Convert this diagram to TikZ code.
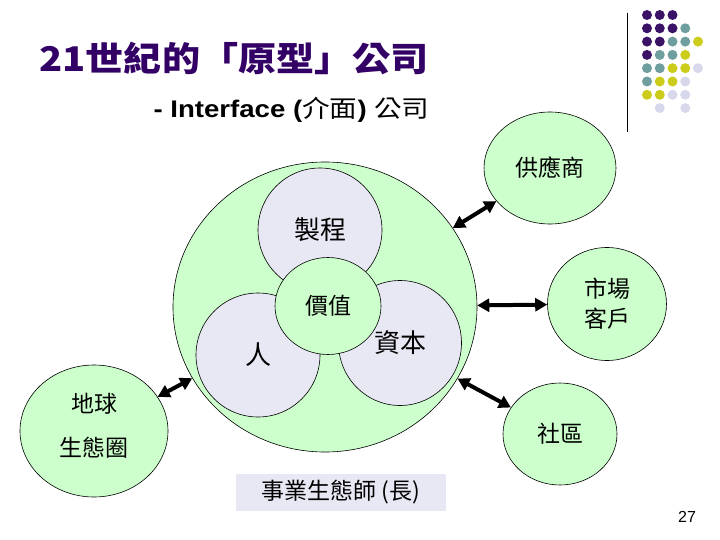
\documentclass[tikz,border=0pt]{standalone}
\usepackage{graphicx}
\usepackage{fontspec}
\setmainfont{Liberation Sans}
\newfontfamily\cjk{Noto Sans CJK TC}
\usetikzlibrary{shapes.geometric,arrows.meta}
\definecolor{paleGreen}{HTML}{CCFFCC}
\definecolor{paleLav}{HTML}{E8E8F4}
\definecolor{titlePurple}{HTML}{330066}
\definecolor{dotPurple}{HTML}{3A1266}
\definecolor{dotTeal}{HTML}{6E9E9E}
\definecolor{dotOlive}{HTML}{CCCC1A}
\definecolor{dotLav}{HTML}{D8D8EC}
\begin{document}
\begin{tikzpicture}[x=1pt,y=-1pt,>={Triangle[length=12pt,width=13pt]},
    blob/.style={ellipse,draw,line width=0.6pt,fill=paleGreen,inner sep=0pt,align=center,
                 font=\cjk\fontsize{23}{40}\selectfont},
    petal/.style={blob,fill=paleLav,font=\cjk\fontsize{26}{30}\selectfont},
    link/.style={<->,line width=4pt}]
    \useasboundingbox (0,0) rectangle (720,540);
    % tieu de
    \node[anchor=west,text=titlePurple,font=\cjk\bfseries\fontsize{34}{40}\selectfont] (title) at (36,58) {\scalebox{1.12}[1]{21世紀的「原型」公司}};
    \node[anchor=west,font=\bfseries\fontsize{24}{28}\selectfont] (subtitle) at (150,110) {\scalebox{1.15}[1]{- Interface ({\cjk\mdseries 介面}) {\cjk\mdseries 公司}}};
    % trang tri goc phai
    \draw[line width=1pt] (627,13) -- (627,132);
    \foreach \c/\r/\col in {0/0/dotPurple,1/0/dotPurple,2/0/dotPurple,
            0/1/dotPurple,1/1/dotPurple,2/1/dotPurple,3/1/dotTeal,
            0/2/dotPurple,1/2/dotPurple,2/2/dotTeal,3/2/dotTeal,4/2/dotOlive,
            0/3/dotPurple,1/3/dotTeal,2/3/dotTeal,3/3/dotOlive,
            0/4/dotTeal,1/4/dotTeal,2/4/dotOlive,3/4/dotOlive,4/4/dotLav,
            0/5/dotTeal,1/5/dotOlive,2/5/dotOlive,3/5/dotLav,
            0/6/dotOlive,1/6/dotOlive,2/6/dotLav,3/6/dotLav,
            1/7/dotLav,3/7/dotLav}
        \fill[\col] (647+12.75*\c,15+13.3*\r) circle (5pt);
    % vong lon va ba canh hoa
    \node[blob,minimum width=304pt,minimum height=290pt] (core) at (325,307) {};
    \node[petal,minimum width=124pt,minimum height=124pt] (process) at (320,230) {製程};
    \node[petal,minimum width=124pt,minimum height=124pt] (people) at (258,355) {人};
    \node[petal,minimum width=123pt,minimum height=125pt] (capital) at (400,343) {資本};
    \node[blob,minimum width=106pt,minimum height=97pt] (value) at (328,306) {價值};
    % cac ben ngoai
    \node[blob,minimum width=132pt,minimum height=112pt] (supplier) at (550,168) {供應商};
    \node[blob,minimum width=119pt,minimum height=113pt] (market) at (607,304) {市場\\[-10pt]客戶};
    \node[blob,minimum width=114pt,minimum height=102pt] (community) at (560,434) {社區};
    \node[blob,minimum width=148pt,minimum height=132pt] (earth) at (94,431) {地球\\[4pt]生態圈\\[-28pt]};
    % mui ten hai chieu
    \draw[link] (core) -- (supplier);
    \draw[link] (core) -- (market);
    \draw[link] (core) -- (community);
    \draw[link] (core) -- (earth);
    % nhan duoi
    \node[fill=paleLav,minimum width=210pt,minimum height=37pt,inner sep=0pt,
          font=\cjk\fontsize{23}{28}\selectfont] (eco) at (341,492) {事業生態師 (長)};
    \node[font=\fontsize{16}{18}\selectfont] (pageno) at (687,517) {27};
\end{tikzpicture}
\end{document}
